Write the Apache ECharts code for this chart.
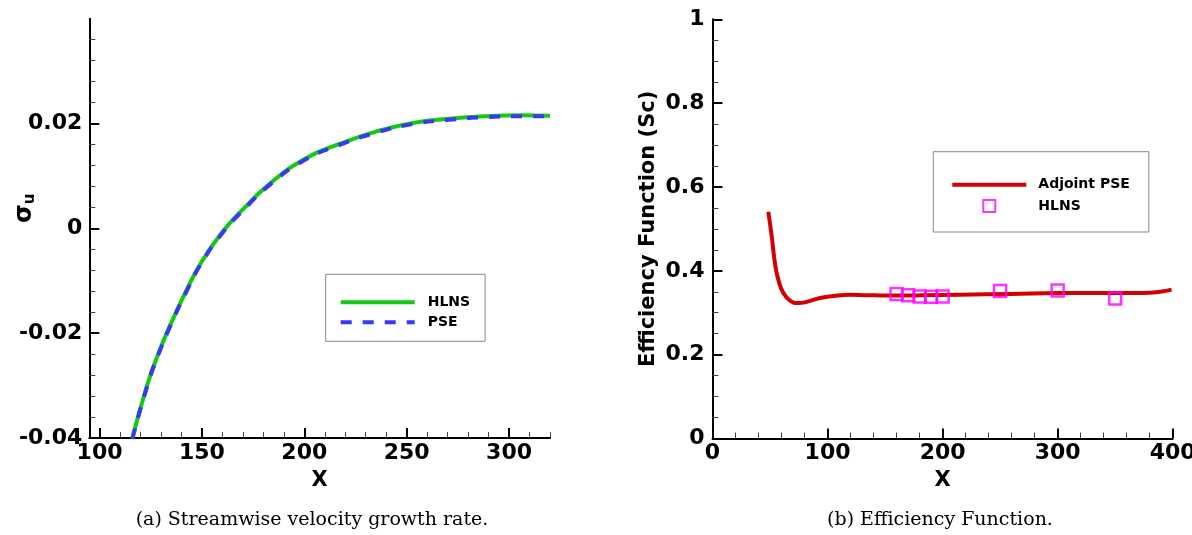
<!DOCTYPE html>
<html><head><meta charset="utf-8">
<script src="https://cdn.jsdelivr.net/npm/echarts@6/dist/echarts.min.js"></script>
<style>html,body{margin:0;padding:0;background:#fff}#c{width:1192px;height:535px}</style>
</head><body><div id="c"></div>
<script>
// ---- Panel (a): streamwise velocity growth rate ----
const growthX = [116, 123.2, 128.5, 135.5, 142.5, 149.5, 160, 170.5, 182.8, 200.4, 217.9, 235.4, 253, 270.5, 288, 305.6, 320];
const hlnsGrowth = [-0.040, -0.0300, -0.0241, -0.0176, -0.0118, -0.0066, -0.0007, 0.0038, 0.0084, 0.0133, 0.0162, 0.0185, 0.0201, 0.0209, 0.0214, 0.0216, 0.0215];
const pseGrowth  = [-0.0402, -0.0302, -0.0243, -0.0178, -0.0120, -0.0068, -0.0009, 0.0036, 0.0082, 0.0131, 0.0160, 0.0183, 0.0199, 0.0207, 0.0212, 0.0214, 0.0214];
const growthXLabels = [100, 150, 200, 250, 300];
const growthXMinor = [110, 120, 130, 140, 160, 170, 180, 190, 210, 220, 230, 240, 260, 270, 280, 290, 310, 320];
const growthYLabels = [-0.04, -0.02, 0, 0.02];
const growthYMinor = [-0.036, -0.032, -0.028, -0.024, -0.016, -0.012, -0.008, -0.004, 0.004, 0.008, 0.012, 0.016, 0.024, 0.028, 0.032, 0.036];

// ---- Panel (b): efficiency function ----
const adjX = [48.5, 51.5, 54.3, 57.2, 61.6, 67.4, 74.6, 81.9, 93.5, 105, 119.6, 134, 151.5, 180, 215, 260, 302, 340, 374, 389, 399];
const adjY = [0.541, 0.482, 0.418, 0.379, 0.347, 0.329, 0.323, 0.326, 0.335, 0.340, 0.343, 0.342, 0.341, 0.3415, 0.343, 0.345, 0.347, 0.347, 0.347, 0.350, 0.355];
const hlnsEffX = [160, 170, 180, 190, 200, 250, 300, 350];
const hlnsEffY = [0.345, 0.342, 0.339, 0.338, 0.339, 0.352, 0.353, 0.334];

const zip = (xs, ys) => xs.map((x, i) => [x, ys[i]]);

const FONT = 'DejaVu Sans';
const tickLabel = { fontFamily: FONT, fontWeight: 'bold', fontSize: 22, color: '#000' };
const axisLine = { show: true, onZero: false, lineStyle: { color: '#000', width: 2 } };
const majorTick = { show: true, inside: true, length: 10, lineStyle: { color: '#000', width: 2 } };
const minorTickStyle = { show: true, inside: true, length: 6, lineStyle: { color: '#444', width: 1 } };
const nameStyle = { fontFamily: FONT, fontWeight: 'bold', fontSize: 21, color: '#000' };
const legendText = { fontFamily: FONT, fontWeight: 'bold', fontSize: 14, color: '#000' };

const chart = echarts.init(document.getElementById('c'), null, { renderer: 'canvas' });
chart.setOption({
  animation: false,
  backgroundColor: '#fff',
  grid: [
    { left: 89.3, top: 18.7, width: 460.7, height: 419.3, outerBoundsMode: 'none', containLabel: false },
    { left: 712.5, top: 19.3, width: 460.2, height: 419.2, outerBoundsMode: 'none', containLabel: false }
  ],
  xAxis: [
    { gridIndex: 0, type: 'value', position: 'bottom', min: 95, max: 320,
      axisLine, axisTick: Object.assign({}, majorTick, { customValues: growthXLabels }),
      axisLabel: Object.assign({}, tickLabel, { customValues: growthXLabels, margin: 4 }),
      splitLine: { show: false },
      name: 'X', nameLocation: 'middle', nameGap: 32, nameMoveOverlap: false, nameTextStyle: nameStyle },
    { gridIndex: 0, type: 'value', position: 'bottom', min: 95, max: 320,
      axisLine: { show: false, onZero: false }, axisLabel: { show: false },
      axisTick: Object.assign({}, minorTickStyle, { customValues: growthXMinor }),
      splitLine: { show: false } },
    { gridIndex: 1, type: 'value', position: 'bottom', min: 0, max: 400, interval: 100,
      axisLine, axisTick: majorTick,
      minorTick: { show: true, splitNumber: 5, length: 6, lineStyle: { color: '#444', width: 1 } },
      axisLabel: Object.assign({}, tickLabel, { margin: 4 }),
      splitLine: { show: false }, minorSplitLine: { show: false },
      name: 'X', nameLocation: 'middle', nameGap: 32, nameMoveOverlap: false, nameTextStyle: nameStyle }
  ],
  yAxis: [
    { gridIndex: 0, type: 'value', position: 'left', min: -0.04, max: 0.04,
      axisLine, axisTick: Object.assign({}, majorTick, { customValues: growthYLabels }),
      axisLabel: Object.assign({}, tickLabel, { customValues: growthYLabels, margin: 7 }),
      splitLine: { show: false },
      name: '{s|σ}{u|u}', nameLocation: 'middle', nameRotate: 90, nameGap: 52, nameMoveOverlap: false,
      nameTextStyle: { padding: [0, 0, 0, 40], rich: {
        s: { fontFamily: FONT, fontWeight: 'bold', fontSize: 24, color: '#000' },
        u: { fontFamily: FONT, fontWeight: 'bold', fontSize: 15, color: '#000', padding: [10, 0, 0, 0] }
      } } },
    { gridIndex: 0, type: 'value', position: 'left', min: -0.04, max: 0.04,
      axisLine: { show: false, onZero: false }, axisLabel: { show: false },
      axisTick: Object.assign({}, minorTickStyle, { customValues: growthYMinor }),
      splitLine: { show: false } },
    { gridIndex: 1, type: 'value', position: 'left', min: 0, max: 1, interval: 0.2,
      axisLine, axisTick: majorTick,
      minorTick: { show: true, splitNumber: 4, length: 6, lineStyle: { color: '#444', width: 1 } },
      axisLabel: Object.assign({}, tickLabel, { margin: 8 }),
      splitLine: { show: false }, minorSplitLine: { show: false },
      name: 'Efficiency Function (Sc)', nameLocation: 'middle', nameRotate: 90, nameGap: 53, nameMoveOverlap: false,
      nameTextStyle: nameStyle }
  ],
  legend: [
    { orient: 'vertical', left: 325.7, top: 274.3, selectedMode: false,
      data: [
        { name: 'HLNS', itemStyle: { opacity: 0 } },
        { name: 'PSE', itemStyle: { opacity: 0 } }
      ],
      itemWidth: 74, itemHeight: 14, itemGap: 6,
      lineStyle: { width: 4 },
      padding: [21, 15, 12, 13], borderColor: '#888', borderWidth: 1, backgroundColor: '#fff',
      textStyle: Object.assign({}, legendText, { padding: [0, 0, 0, 8] }) },
    { orient: 'vertical', left: 933.3, top: 151.7, selectedMode: false, symbolKeepAspect: true,
      data: [
        { name: 'Adjoint PSE', itemStyle: { opacity: 0 } },
        { name: 'HLNS (b)', icon: 'path://M0 0H10V10H0Z' }
      ],
      itemWidth: 74, itemHeight: 12, itemGap: 7.3,
      lineStyle: { width: 4 },
      formatter: n => n === 'HLNS (b)' ? 'HLNS' : n,
      padding: [26, 19, 19, 17], borderColor: '#888', borderWidth: 1, backgroundColor: '#fff',
      textStyle: Object.assign({}, legendText, { padding: [0, 0, 0, 7] }) }
  ],
  series: [
    { name: 'HLNS', type: 'line', xAxisIndex: 0, yAxisIndex: 0, data: zip(growthX, hlnsGrowth),
      smooth: true, symbol: 'none', lineStyle: { color: '#14c814', width: 4 }, itemStyle: { color: '#14c814' }, z: 2 },
    { name: 'PSE', type: 'line', xAxisIndex: 0, yAxisIndex: 0, data: zip(growthX, pseGrowth),
      smooth: true, symbol: 'none', lineStyle: { color: '#3838f5', width: 4, type: [11, 11] }, itemStyle: { color: '#3838f5' }, z: 3 },
    { name: 'Adjoint PSE', type: 'line', xAxisIndex: 2, yAxisIndex: 2, data: zip(adjX, adjY),
      smooth: true, symbol: 'none', lineStyle: { color: '#d40000', width: 4 }, itemStyle: { color: '#d40000' }, z: 2 },
    { name: 'HLNS (b)', type: 'scatter', xAxisIndex: 2, yAxisIndex: 2, data: zip(hlnsEffX, hlnsEffY),
      symbol: 'rect', symbolSize: 12,
      itemStyle: { color: 'rgba(0,0,0,0)', borderColor: '#ff00ff', borderWidth: 2.5 }, z: 3 }
  ],
  graphic: [
    { type: 'text', x: 312, y: 520, style: { text: '(a) Streamwise velocity growth rate.', font: '19px "DejaVu Serif"', fill: '#000', align: 'center', verticalAlign: 'middle', textAlign: 'center', textVerticalAlign: 'middle' } },
    { type: 'text', x: 940, y: 520, style: { text: '(b) Efficiency Function.', font: '19px "DejaVu Serif"', fill: '#000', align: 'center', verticalAlign: 'middle', textAlign: 'center', textVerticalAlign: 'middle' } }
  ]
});
</script>
</body></html>
